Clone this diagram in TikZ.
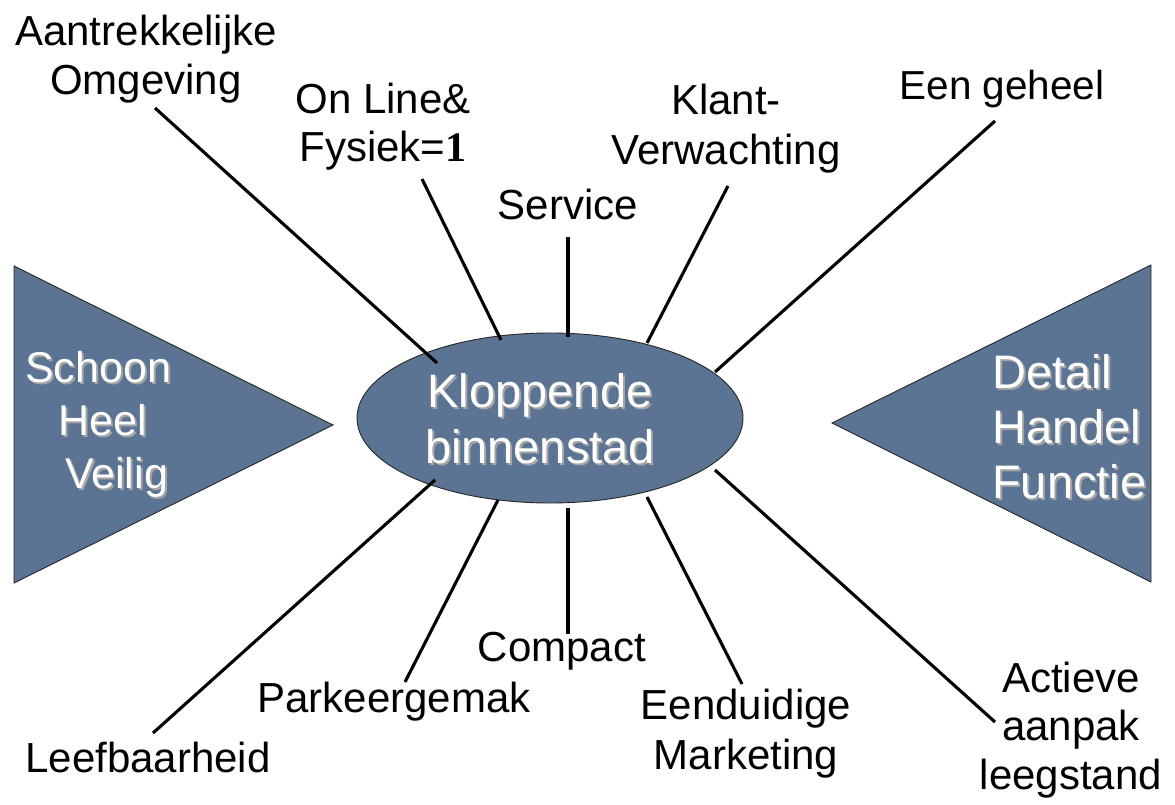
\documentclass[tikz,border=0pt]{standalone}
\usepackage{fontspec}
\setmainfont{Liberation Sans}
\newfontfamily\serifone{Liberation Serif}
\usetikzlibrary{shapes.geometric}
\definecolor{slate}{RGB}{91,116,148}
\definecolor{shadowc}{RGB}{165,165,165}
\newcommand\shd[1]{\leavevmode\rlap{\kern2pt\raisebox{-2pt}{\textcolor{shadowc}{#1}}}#1}
\newcommand\mltext[4]{{\fontsize{#1}{#2}\selectfont\begin{tabular}[b]{@{}#3@{}}#4\end{tabular}}}
\begin{document}
\begin{tikzpicture}[x=1pt,y=-1pt,
  lbl/.style={inner sep=0pt, anchor=base, text=black, font=\fontsize{42}{48}\selectfont},
  wlbl/.style={inner sep=0pt, text=white},
  spoke/.style={line width=3.1pt, draw=black},
  shapefill/.style={fill=slate, draw=black!85, line width=0.9pt}]
\useasboundingbox (0,0) rectangle (1175,805);
% triangles
\draw[shapefill] (14,266) -- (333,425) -- (14,583) -- cycle;
\draw[shapefill] (1151,265) -- (832,423) -- (1151,582) -- cycle;
% ellipse
\node[ellipse, shapefill, minimum width=386pt, minimum height=170pt, inner sep=0pt] (ell) at (550,418) {};
% white texts
\node[wlbl, anchor=base west] (shv) at (25,488) {\mltext{43}{53}{l}{\shd{Schoon}\\\hspace*{33pt}\shd{Heel}\\\hspace*{40pt}\shd{Veilig}}};
\node[wlbl, anchor=base west] (dhf) at (992,498) {\mltext{47}{55}{l}{\shd{Detail}\\\shd{Handel}\\\shd{Functie}}};
\node[wlbl, anchor=base] (klb) at (540,463) {\mltext{47}{56}{c}{\shd{Kloppende}\\\shd{binnenstad}}};
% labels
\node[lbl] (aan) at (146,95) {\mltext{42}{49}{c}{Aantrekkelijke\\Omgeving}};
\node[lbl] (onl) at (383,162) {\mltext{42}{48}{c}{On Line\&\\Fysiek={\serifone\bfseries 1}}};
\node[lbl] (ser) at (568,220) {Service};
\node[lbl] (kla) at (726,165) {\mltext{42}{50}{c}{Klant-\\Verwachting}};
\node[lbl, font=\fontsize{40.5}{46}\selectfont] (een) at (1002,100) {Een geheel};
\node[lbl] (lee) at (148,772) {Leefbaarheid};
\node[lbl] (par) at (394,712) {Parkeergemak};
\node[lbl] (com) at (562,661) {Compact};
\node[lbl] (edm) at (746,769) {\mltext{42}{50}{c}{Eenduidige\\Marketing}};
\node[lbl] (act) at (1071,789) {\mltext{42}{48.5}{c}{Actieve\\aanpak\\leegstand}};
% connector end points
\coordinate (p1) at (155,108);  \coordinate (q1) at (437,363);
\coordinate (p2) at (422,179);  \coordinate (q2) at (501,340);
\coordinate (p3) at (568,237);  \coordinate (q3) at (568,337);
\coordinate (p4) at (728,186);  \coordinate (q4) at (647,343);
\coordinate (p5) at (995,121);  \coordinate (q5) at (715,372);
\coordinate (p6) at (153,733);  \coordinate (q6) at (435,480);
\coordinate (p7) at (405,682);  \coordinate (q7) at (498,500);
\coordinate (p8) at (568,634);  \coordinate (q8) at (568,508);
\coordinate (p9) at (742,684);  \coordinate (q9) at (647,497);
\coordinate (p10) at (995,722); \coordinate (q10) at (715,470);
\foreach \i in {1,...,10} { \draw[spoke] (p\i) -- (q\i); }
\end{tikzpicture}
\end{document}
